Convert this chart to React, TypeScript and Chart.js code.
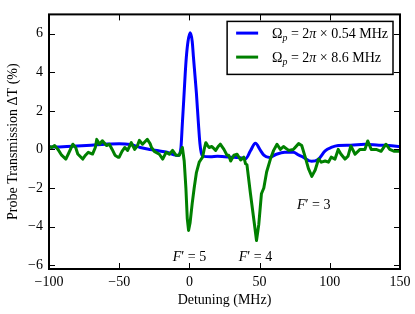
import React, { useEffect, useRef } from 'react';
import { Chart, registerables } from 'chart.js';

Chart.register(...registerables);

const xTicks = [-100, -50, 0, 50, 100, 150];
const yTicks = [-6, -4, -2, 0, 2, 4, 6];

const blueX = [-100, -90, -80, -70, -60, -50, -42, -35, -28, -22, -16, -11, -8, -7, -6, -5, -4, -3, -2.2, -1, 0.6, 2, 2.9, 4, 5, 6.4, 7.5, 8.5, 10, 15, 20, 25, 30, 35, 40, 43.5, 47, 50.6, 53, 57, 62, 68, 74, 78, 81, 87, 92, 96.7, 101, 106, 115, 125, 135, 142, 150];
const blueY = [0.12, 0.14, 0.18, 0.22, 0.27, 0.3, 0.25, 0.1, 0.0, -0.07, -0.15, -0.28, -0.32, -0.25, 0.1, 1.37, 2.6, 3.9, 4.77, 5.6, 6.05, 5.6, 4.77, 3.8, 2.9, 1.37, 0.3, -0.2, -0.36, -0.38, -0.36, -0.38, -0.4, -0.42, -0.48, -0.07, 0.32, -0.05, -0.3, -0.42, -0.25, -0.15, -0.15, -0.3, -0.4, -0.62, -0.5, -0.07, 0.1, 0.2, 0.22, 0.27, 0.22, 0.2, 0.15];

const greenX = [-100, -98, -96, -93.6, -91, -88, -86, -83, -81, -79.5, -76, -74, -72, -69, -67, -66, -64, -62, -59, -57, -55, -53, -51, -50, -48, -46, -44, -41.4, -39, -37, -35.6, -33.4, -31, -30, -28, -27, -25, -21.4, -19, -16.6, -14.3, -12, -9.6, -7.2, -5, -3.7, -2.5, -1.5, -0.6, 0.5, 2, 3.4, 5, 7, 8, 9.4, 10.5, 11.7, 13, 14, 16, 18.7, 20.5, 22, 24.6, 26.8, 28, 29.4, 31.7, 34, 36.5, 38.8, 40, 41, 43.5, 46, 47.8, 49.4, 51.3, 53, 55, 57.7, 60, 62.4, 64.8, 67, 70.7, 74, 77.8, 80, 82.5, 84.8, 87.2, 89.6, 92, 94, 96.7, 99, 101, 103.7, 106, 108, 110.8, 113, 115, 118, 121.5, 125, 127, 129.5, 133, 136.5, 140, 142.7, 146, 150];
const greenY = [0.15, 0.1, 0.2, 0.0, -0.3, -0.5, -0.2, 0.27, 0.1, -0.24, -0.5, -0.3, -0.15, -0.24, 0.1, 0.52, 0.27, 0.45, 0.2, 0.27, 0.0, -0.3, -0.4, -0.4, -0.1, 0.1, -0.05, 0.35, 0.0, 0.2, 0.47, 0.27, 0.45, 0.52, 0.3, 0.1, -0.1, -0.25, -0.5, -0.15, -0.25, -0.05, -0.3, -0.3, 0.1, -0.6, -2.0, -3.6, -4.2, -3.8, -2.8, -2.0, -1.2, -0.66, -0.55, -0.4, 0.0, 0.35, 0.2, 0.1, 0.15, -0.05, 0.15, 0.27, 0.0, -0.3, -0.3, -0.6, -0.3, -0.25, -0.55, -0.4, -0.75, -0.8, -2.3, -3.7, -4.72, -3.9, -2.3, -2.0, -1.17, -0.5, -0.05, 0.27, 0.0, 0.15, -0.05, 0.0, 0.3, 0.2, -0.4, -1.0, -1.4, -1.07, -0.5, -0.66, -0.6, -0.66, -0.4, -0.5, 0.0, -0.25, -0.5, -0.35, 0.18, -0.25, 0.0, 0.0, 0.44, 0.0, 0.0, -0.1, 0.27, 0.0, -0.1, -0.1];

const seriesValues = ['0.54', '8.6'];
const seriesColors = ['#0000ff', '#008000'];
const annotationLevels = ['5', '4', '3'];
const annotationX = [0, 47, 88.5];
const annotationY = [-5.55, -5.55, -2.85];

const FAMILY = '"Liberation Serif", "DejaVu Serif", serif';
const FS = 14;

function toPoints(xs: number[], ys: number[]) {
  return xs.map((x, i) => ({ x, y: ys[i] }));
}

type Piece = { t: string; italic?: boolean; sub?: boolean };

function measurePieces(ctx: CanvasRenderingContext2D, pieces: Piece[]) {
  let w = 0;
  for (const p of pieces) {
    const size = p.sub ? FS * 0.7 : FS;
    ctx.font = `${p.italic ? 'italic ' : ''}${size}px ${FAMILY}`;
    w += ctx.measureText(p.t).width;
  }
  return w;
}

function drawPieces(ctx: CanvasRenderingContext2D, pieces: Piece[], x: number, y: number) {
  let cx = x;
  ctx.textBaseline = 'alphabetic';
  ctx.textAlign = 'left';
  for (const p of pieces) {
    const size = p.sub ? FS * 0.7 : FS;
    ctx.font = `${p.italic ? 'italic ' : ''}${size}px ${FAMILY}`;
    ctx.fillText(p.t, cx, p.sub ? y + 3 : y);
    cx += ctx.measureText(p.t).width;
  }
}

const decorPlugin = {
  id: 'decor',
  afterDraw(chart: any) {
    const { ctx, chartArea: a, scales } = chart;
    const xs = scales.x;
    const ys = scales.y;
    ctx.save();
    ctx.strokeStyle = '#000';
    ctx.fillStyle = '#000';
    ctx.lineWidth = 1;
    const line = (x1: number, y1: number, x2: number, y2: number) => {
      ctx.beginPath();
      ctx.moveTo(x1, y1);
      ctx.lineTo(x2, y2);
      ctx.stroke();
    };
    for (const v of xTicks) {
      const px = Math.round(xs.getPixelForValue(v)) + 0.5;
      line(px, a.bottom, px, a.bottom - 6);
      line(px, a.top, px, a.top + 6);
    }
    for (const v of yTicks) {
      const py = Math.round(ys.getPixelForValue(v)) + 0.5;
      line(a.left, py, a.left + 6, py);
      line(a.right, py, a.right - 6, py);
    }
    ctx.lineWidth = 2;
    ctx.strokeRect(a.left, a.top, a.right - a.left, a.bottom - a.top);

    // legend
    const rows: Piece[][] = seriesValues.map((v) => [
      { t: 'Ω' },
      { t: 'p', italic: true, sub: true },
      { t: ' = 2' },
      { t: 'π', italic: true },
      { t: ' × ' + v + ' MHz' },
    ]);
    const textW = Math.max(...rows.map((r) => measurePieces(ctx, r)));
    const boxRight = a.right - 7;
    const boxTop = a.top + 7;
    const boxH = 53;
    const lineLen = 22;
    const gap = 14;
    const boxLeft = boxRight - 5 - textW - gap - lineLen - 9;
    ctx.fillStyle = '#fff';
    ctx.fillRect(boxLeft, boxTop, boxRight - boxLeft, boxH);
    ctx.lineWidth = 1.5;
    ctx.strokeStyle = '#000';
    ctx.strokeRect(boxLeft, boxTop, boxRight - boxLeft, boxH);
    rows.forEach((r, i) => {
      const cy = boxTop + 11.7 + i * 24;
      ctx.strokeStyle = seriesColors[i];
      ctx.lineWidth = 3;
      line(boxLeft + 9, cy, boxLeft + 9 + lineLen, cy);
      ctx.fillStyle = '#000';
      drawPieces(ctx, r, boxLeft + 9 + lineLen + gap, cy + 4.5);
    });

    // annotations
    ctx.fillStyle = '#000';
    annotationLevels.forEach((lv, i) => {
      const pieces: Piece[] = [{ t: 'F', italic: true }, { t: '′ = ' + lv }];
      const w = measurePieces(ctx, pieces);
      const px = xs.getPixelForValue(annotationX[i]);
      const py = ys.getPixelForValue(annotationY[i]);
      drawPieces(ctx, pieces, px - w / 2, py + 4.5);
    });
    ctx.restore();
  },
};

export default function App() {
  const ref = useRef<HTMLCanvasElement>(null);
  useEffect(() => {
    document.body.style.margin = '0';
    const canvas = ref.current!;
    const chart = new Chart(canvas, {
      type: 'line',
      data: {
        datasets: [
          {
            label: 'blue',
            data: toPoints(blueX, blueY),
            borderColor: seriesColors[0],
            borderWidth: 3,
            borderJoinStyle: 'round',
            borderCapStyle: 'round',
            pointRadius: 0,
            cubicInterpolationMode: 'monotone',
            order: 1,
          },
          {
            label: 'green',
            data: toPoints(greenX, greenY),
            borderColor: seriesColors[1],
            borderWidth: 3,
            borderJoinStyle: 'round',
            borderCapStyle: 'round',
            pointRadius: 0,
            tension: 0,
            order: 0,
          },
        ],
      },
      options: {
        animation: false,
        responsive: false,
        devicePixelRatio: 1,
        layout: { padding: { top: 9, right: 13, left: 0, bottom: 0 } },
        plugins: { legend: { display: false }, tooltip: { enabled: false } },
        scales: {
          x: {
            type: 'linear',
            min: -100,
            max: 150,
            afterBuildTicks: (s: any) => {
              s.ticks = xTicks.map((v) => ({ value: v }));
            },
            afterFit: (s: any) => {
              s.height = 45;
            },
            grid: { display: false, drawTicks: false },
            border: { display: false },
            ticks: {
              padding: 4.5,
              color: '#000',
              font: { family: FAMILY, size: FS },
              callback: (v: any) => String(v).replace('-', '\u2212'),
              maxRotation: 0,
            },
            title: {
              display: true,
              text: 'Detuning (MHz)',
              color: '#000',
              font: { family: FAMILY, size: FS },
              padding: { bottom: 5.5, top: 0 },
            },
          },
          y: {
            type: 'linear',
            min: -6.2,
            max: 7,
            afterBuildTicks: (s: any) => {
              s.ticks = yTicks.map((v) => ({ value: v }));
            },
            afterFit: (s: any) => {
              s.width = 49;
            },
            grid: { display: false, drawTicks: false },
            border: { display: false },
            ticks: {
              padding: 6,
              color: '#000',
              font: { family: FAMILY, size: FS },
              callback: (v: any) => String(v).replace('-', '\u2212'),
            },
            title: {
              display: true,
              text: 'Probe Transmission ΔT (%)',
              color: '#000',
              font: { family: FAMILY, size: FS },
              padding: { top: 4.6, bottom: 0 },
            },
          },
        },
      },
      plugins: [decorPlugin],
    } as any);
    return () => chart.destroy();
  }, []);
  return (
    <div style={{ width: 415, height: 314 }}>
      <canvas ref={ref} width={415} height={314} style={{ width: 415, height: 314, display: 'block' }} />
    </div>
  );
}
